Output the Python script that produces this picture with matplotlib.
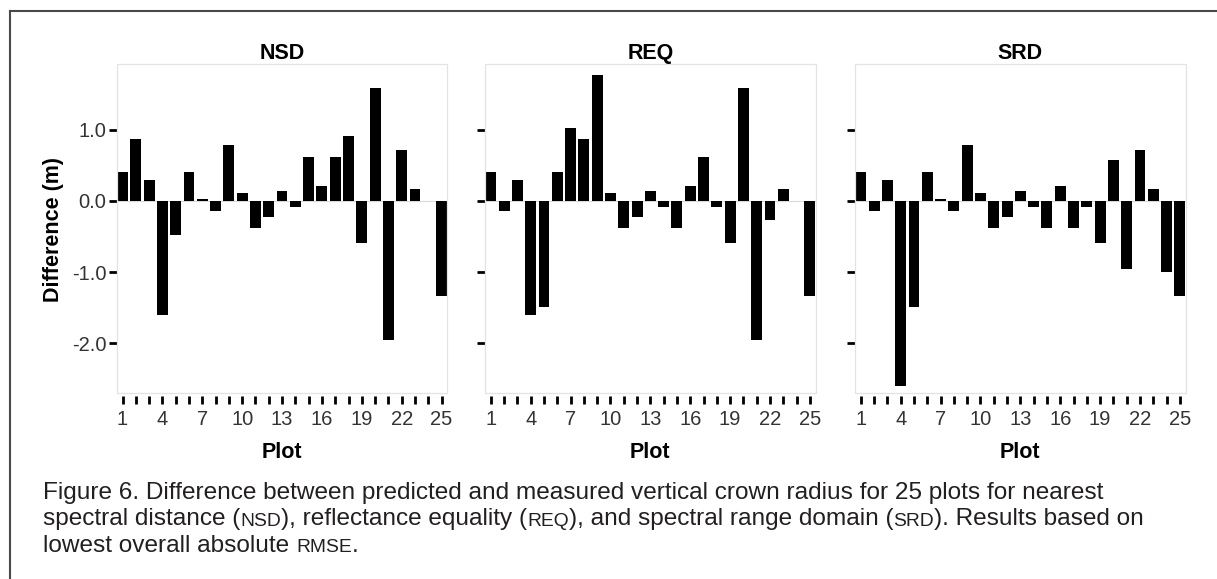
import numpy as np
import matplotlib
matplotlib.use("Agg")
import matplotlib.pyplot as plt
from matplotlib.lines import Line2D
from matplotlib.patches import Rectangle

# ---- data -------------------------------------------------------------
plots = list(range(1, 26))
nsd = [0.40, 0.87, 0.29, -1.60, -0.48, 0.40, 0.02, -0.14, 0.78, 0.11,
       -0.38, -0.22, 0.14, -0.08, 0.62, 0.21, 0.62, 0.91, -0.59, 1.59,
       -1.95, 0.72, 0.16, 0.00, -1.33]
req = [0.40, -0.14, 0.29, -1.60, -1.49, 0.40, 1.02, 0.87, 1.77, 0.11,
       -0.38, -0.22, 0.14, -0.08, -0.38, 0.21, 0.62, -0.08, -0.59, 1.59,
       -1.95, -0.27, 0.16, 0.00, -1.33]
srd = [0.40, -0.14, 0.29, -2.60, -1.49, 0.40, 0.02, -0.14, 0.78, 0.11,
       -0.38, -0.22, 0.14, -0.08, -0.38, 0.21, -0.38, -0.08, -0.59, 0.58,
       -0.95, 0.72, 0.16, -1.00, -1.33]
panel_titles = ["NSD", "REQ", "SRD"]
y_ticks = [1.0, 0.0, -1.0, -2.0]
y_tick_labels = ["1.0", "0.0", "-1.0", "-2.0"]
x_labelled = ["1", "4", "7", "10", "13", "16", "19", "22", "25"]

caption_lines = [
    [("Figure 6. Difference between predicted and measured vertical crown radius for 25 plots for nearest", False)],
    [("spectral distance (", False), ("NSD", True), ("), reflectance equality (", False), ("REQ", True),
     ("), and spectral range domain (", False), ("SRD", True), ("). Results based on", False)],
    [("lowest overall absolute ", False), ("RMSE", True), (".", False)],
]

# ---- figure -----------------------------------------------------------
W, H = 1217, 579
fig = plt.figure(figsize=(W / 100, H / 100), dpi=100)
fig.patch.set_facecolor("white")

FONT = "Liberation Sans"
TXT = "#333333"
bar_w = 0.82
TICK_SIZE = 14.5
LABEL_SIZE = 15.5

panel_left_px = [116.7, 485.0, 855.0]
panel_w_px = 330.7
top_px, bot_px = 64.0, 393.3

series = [nsd, req, srd]
for i, (vals, title) in enumerate(zip(series, panel_titles)):
    l = panel_left_px[i] / W
    b = 1 - bot_px / H
    ax = fig.add_axes([l, b, panel_w_px / W, (bot_px - top_px) / H])
    ax.axhline(0, color="#DADADA", lw=0.8, zorder=1)
    ax.bar(plots, vals, width=bar_w, color="black", edgecolor="none", zorder=2)
    ax.set_xlim(1 - bar_w / 2 - 0.03, 25 + bar_w / 2 + 0.03)
    ax.set_ylim(-2.7, 1.92)

    for s in ax.spines.values():
        s.set_visible(False)
    ax.spines["left"].set_position(("outward", 0.0))
    ax.spines["bottom"].set_position(("outward", 2.2))
    ax.add_patch(Rectangle((0, 0), 1, 1, transform=ax.transAxes, fill=False,
                           edgecolor="#E3E3E3", lw=0.9, zorder=3, clip_on=False))

    ax.set_xticks(plots)
    ax.set_xticklabels([str(p) if str(p) in x_labelled else "" for p in plots])
    ax.set_yticks(y_ticks)
    if i == 0:
        ax.set_yticklabels(y_tick_labels)
    else:
        ax.set_yticklabels([])
    ax.tick_params(axis="both", direction="out", width=2.0,
                   color="black", labelcolor=TXT, labelsize=TICK_SIZE)
    ax.tick_params(axis="x", length=5.8, pad=4.2)
    ax.tick_params(axis="y", length=5.5, pad=2.0)
    for lab in ax.get_xticklabels() + ax.get_yticklabels():
        lab.set_fontfamily(FONT)

    ax.set_title(title, fontsize=LABEL_SIZE, fontweight="bold", family=FONT,
                 color="black", pad=3.4)
    cx = (panel_left_px[i] + panel_w_px / 2) / W
    fig.text(cx, 1 - 458 / H, "Plot", ha="center", va="baseline",
             fontsize=LABEL_SIZE, fontweight="bold", family=FONT, color="black")

fig.text(54.0 / W, 1 - 230 / H, "Difference (m)", rotation=90, ha="center",
         va="center", fontsize=LABEL_SIZE, fontweight="bold", family=FONT, color="black")

# frame lines along the left and top edges
fig.add_artist(Line2D([10 / W, 10 / W], [0, 1 - 11 / H], transform=fig.transFigure,
                      color="#4A4A4A", lw=1.5))
fig.add_artist(Line2D([10 / W, 1], [1 - 11 / H, 1 - 11 / H], transform=fig.transFigure,
                      color="#4A4A4A", lw=1.5))

# ---- caption with small-caps abbreviations ----------------------------
renderer = fig.canvas.get_renderer()
CAP_FONT = "Liberation Sans"
CAP_COLOR = "#231F20"
SMALL = 0.79


def text_width(s, size):
    probe = fig.text(0, 0, s + "|", fontsize=size, family=CAP_FONT)
    bar = fig.text(0, 0, "|", fontsize=size, family=CAP_FONT)
    w = probe.get_window_extent(renderer).width - bar.get_window_extent(renderer).width
    probe.remove()
    bar.remove()
    return w


base = 10.0
cap_size = base * 1067.0 / text_width(caption_lines[0][0][0], base)

baselines = [499.5, 525.5, 551.5]
for runs, yb in zip(caption_lines, baselines):
    x = 43.0
    for s, small in runs:
        size = cap_size * (SMALL if small else 1.0)
        fig.text(x / W, 1 - yb / H, s, fontsize=size, family=CAP_FONT,
                 color=CAP_COLOR, va="baseline", ha="left")
        x += text_width(s, size)

fig.savefig("out.png", dpi=100, facecolor="white")
